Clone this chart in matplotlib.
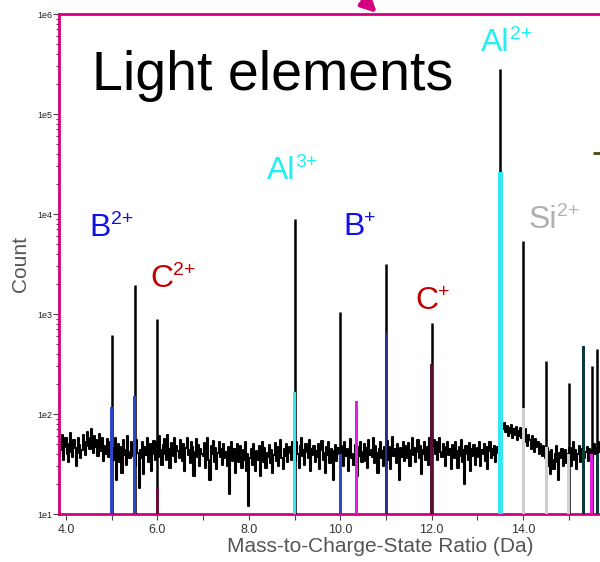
import numpy as np
import matplotlib.pyplot as plt
from matplotlib.ticker import FixedLocator, FuncFormatter, LogLocator, NullFormatter

plt.rcParams['font.family'] = ['Liberation Sans', 'DejaVu Sans']

MAGENTA = '#d4007f'

# background counts, 0.025 Da bins, first bin centred at 3.85
noise_start = 3.85
noise_step = 0.025
noise_counts = [
    38, 52, 44, 61, 35, 47, 58, 40, 33, 50, 64, 42, 37, 55, 46, 30, 41, 57, 49, 36,
    44, 62, 53, 39, 48, 66, 58, 45, 70, 52, 41, 60, 47, 55, 38, 63, 50, 43, 57, 34,
    48, 40, 56, 37, 45, 52,
    28, 46, 35, 58, 22, 41, 50, 33, 47, 26, 55, 39, 44, 31, 60, 42, 36, 52, 45, 38,
    48, 30, 55, 41, 18, 44, 36, 52, 25, 47, 39, 58, 33, 43, 50, 27, 40, 54, 35, 46,
    52, 37, 60, 44, 31, 49, 56, 40, 35, 62, 45, 29, 51, 42, 38, 57, 33, 48, 43, 36,
    55, 41, 34, 50, 27, 46, 58, 39, 44, 32, 53, 47, 24, 42, 56, 37, 49, 30, 45, 40,
    38, 51, 29, 44, 57, 35, 22, 48, 40, 54, 33, 46, 28, 41, 52, 37, 45, 31, 50, 36,
    42, 30, 47, 16, 39, 53, 34, 45, 26, 41, 50, 33, 38, 48, 29, 44, 35, 52, 27, 40,
    12, 36, 45, 31, 50, 38, 27, 43, 35, 48, 24, 40, 52, 33, 46, 29, 41, 37, 49, 32,
    44, 26, 39, 51, 34, 47, 30, 42, 55, 36, 28, 45, 38, 50, 33, 41, 47, 35, 52, 40,
    46, 34, 52, 40, 29, 48, 57, 38, 44, 31, 50, 42, 36, 55, 27, 45, 39, 48, 33, 43,
    37, 50, 28, 44, 54, 35, 41, 26, 47, 39, 52, 32, 45, 38, 22, 43, 49, 34, 46, 40,
    35, 48, 41, 30, 52, 38, 45, 27, 43, 56, 36, 40, 31, 49, 44, 24, 47, 38, 53, 33,
    42, 50, 34, 46, 29, 55, 39, 44, 37, 58, 32, 48, 41, 26, 45, 52, 36, 43, 30, 47,
    40, 54, 35, 47, 28, 43, 59, 38, 45, 32, 50, 41, 22, 46, 37, 53, 34, 48, 42, 36,
    51, 30, 44, 57, 39, 46, 33, 42, 55, 36, 48, 25, 44, 40, 52, 35, 47, 31, 58, 43,
    62, 48, 55, 40, 52, 35, 46, 58, 42, 37, 50, 44, 30, 47, 53, 39, 45, 28, 49, 41,
    36, 52, 43, 29, 47, 38, 55, 33, 44, 20, 48, 40, 35, 51, 27, 45, 38, 49, 31, 42,
    46, 37, 53, 30, 44, 40, 50, 34, 47, 28, 43, 52, 36, 45, 39, 48, 33, 41, 47, 38,
    90, 85, 78, 70, 82, 66, 75, 60, 72, 64, 78, 58, 70, 62, 74, 55, 68, 60, 72, 57,
    66, 52, 70, 58, 48, 62, 55, 45, 60, 50, 42, 56, 47, 52, 40, 50, 44, 38, 48, 42,
    36, 46, 30, 42, 25, 44, 35, 28, 40, 48, 33, 22, 41, 36, 45, 30, 38, 44, 32, 40,
    37, 46, 30, 42, 52, 35, 44, 28, 40, 48, 33, 45, 38, 50, 36, 42, 47, 34, 45, 40,
    44, 36, 50, 40, 46, 38, 52, 42,
]

# peaks: position, maximum count, height of the coloured (ranged) part, range colour
peak_mz = [5.0, 5.5, 6.0, 9.0, 10.0, 10.35, 11.0, 12.0, 13.5, 14.0, 14.5, 15.0, 15.33, 15.5, 15.62]
peak_top = [620, 1950, 890, 9000, 1050, 135, 3150, 815, 280000, 5400, 340, 205, 480, 300, 450]
peak_fill = [118, 150, 18, 165, 40, 135, 650, 315, 26500, 115, 47, 40, 480, 40, 40]
peak_color = ['#2b46c8', '#2b46c8', '#6a1038', '#33e8f0', '#2b46c8', '#e020e0', '#28308a',
              '#5a1030', '#33e8f0', '#cfcfcf', '#cfcfcf', '#cfcfcf', '#0c3c38', '#e020e0', '#0c3c38']

# ion labels (element, charge)
ion_name = ['B', 'C', 'Al', 'B', 'C', 'Al', 'Si']
ion_charge = ['2+', '2+', '3+', '+', '+', '2+', '2+']
ion_x = [4.52, 5.84, 8.40, 10.06, 11.64, 13.08, 14.11]
ion_y = [6000, 1860, 22300, 6150, 1120, 427000, 7240]
ion_color = ['#1010e8', '#c00000', '#22f0f0', '#1010e8', '#c00000', '#22f0f0', '#b0b0b0']

fig = plt.figure(figsize=(6.0, 5.62), dpi=100)
# the original axis runs on past the right edge of the picture
ax = fig.add_axes([59 / 600, 48 / 562, 642 / 600, 500 / 562])

xs = noise_start + noise_step * np.arange(len(noise_counts))
ax.step(xs, noise_counts, where='mid', color='black', lw=1.5, zorder=2)

for mz, top, fill, col in zip(peak_mz, peak_top, peak_fill, peak_color):
    if top > fill:
        ax.vlines(mz, 10, top, color='black', lw=1.8, zorder=3)
    w = 0.11 if top > 100000 else 0.065
    ax.bar(mz, fill - 10, bottom=10, width=w, color=col, edgecolor='none', zorder=4)

for name, q, x, y, c in zip(ion_name, ion_charge, ion_x, ion_y, ion_color):
    t = ax.text(x, y, name, color=c, fontsize=23, ha='left', va='baseline', zorder=5)
    ax.annotate(q, xy=(1, 0), xycoords=t, xytext=(0, 13.5), textcoords='offset points',
                color=c, fontsize=14, ha='left', va='baseline', zorder=5)

ax.text(4.57, 174000, 'Light elements', fontsize=40, color='black', ha='left', va='baseline')
# piece of a cut-off label at the right edge
ax.plot([15.52, 15.75], [40400, 40400], color='#4a4a10', lw=2, solid_capstyle='butt', clip_on=False)

ax.set_yscale('log')
ax.set_ylim(10, 1e6)
ax.set_xlim(3.847, 17.89)

ax.xaxis.set_major_locator(FixedLocator([4, 6, 8, 10, 12, 14]))
ax.xaxis.set_minor_locator(FixedLocator([5, 7, 9, 11, 13, 15]))
ax.xaxis.set_major_formatter(FuncFormatter(lambda v, p: '%.1f' % v))
ax.yaxis.set_major_locator(FixedLocator([1e1, 1e2, 1e3, 1e4, 1e5, 1e6]))
ax.yaxis.set_major_formatter(FuncFormatter(lambda v, p: '1e%d' % round(np.log10(v))))
ax.yaxis.set_minor_locator(LogLocator(base=10, subs=np.arange(2, 10)))
ax.yaxis.set_minor_formatter(NullFormatter())

ax.tick_params(axis='x', which='both', length=4, width=0.8, color='#444444',
               labelsize=9, labelcolor='#333333', pad=3)
ax.tick_params(axis='y', which='major', length=4, width=0.8, color='#444444',
               labelsize=6.5, labelcolor='#222222', pad=1)
ax.tick_params(axis='y', which='minor', length=2, width=0.8, color='#444444')

for side in ['left', 'top', 'bottom']:
    ax.spines[side].set_color(MAGENTA)
    ax.spines[side].set_linewidth(2)
ax.spines['right'].set_visible(False)

ax.set_xlabel('Mass-to-Charge-State Ratio (Da)', fontsize=15, color='#555555', labelpad=1)
ax.set_ylabel('Count', fontsize=15, color='#555555', labelpad=5)

ax.annotate('', xy=(377, 549), xycoords='figure pixels',
            xytext=(345, 580), textcoords='figure pixels',
            arrowprops=dict(arrowstyle='-|>', color=MAGENTA, lw=3.5, mutation_scale=22,
                            shrinkA=0, shrinkB=0),
            annotation_clip=False)

fig.savefig('out.png', dpi=100)
